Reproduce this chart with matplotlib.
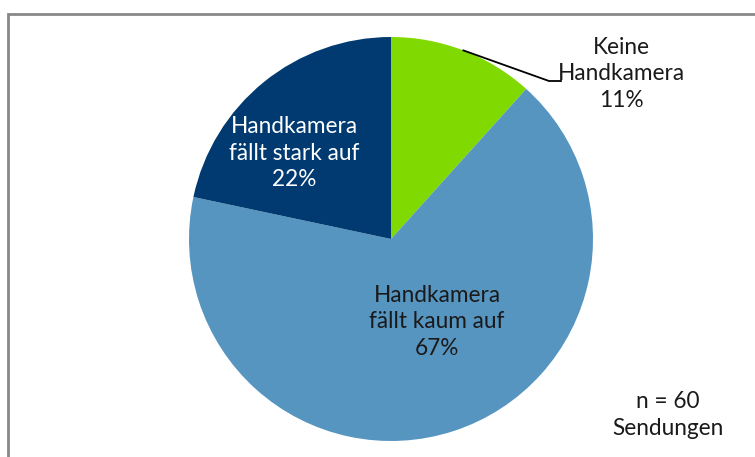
import numpy as np
import matplotlib.pyplot as plt
from matplotlib.patches import Rectangle

labels = ["Keine\nHandkamera", "Handkamera\nfällt kaum auf", "Handkamera\nfällt stark auf"]
counts = [7, 40, 13]  # n = 60 Sendungen
pct_labels = ["11%", "67%", "22%"]
colors = ["#80D900", "#5795C1", "#003A70"]
text_colors = ["#1a1a1a", "#1a1a1a", "white"]
note = "n = 60\nSendungen"

plt.rcParams['font.family'] = ['Lato', 'DejaVu Sans']

W, H = 755, 457
fig = plt.figure(figsize=(W / 100, H / 100), dpi=100)
ax = fig.add_axes([0, 0, 1, 1])

cx, cy, r = 391, H - 239, 202
wedges, _ = ax.pie(counts, colors=colors, startangle=90, counterclock=False,
                   center=(cx, cy), radius=r)
ax.set_xlim(0, W)
ax.set_ylim(0, H)
ax.set_aspect('equal')
ax.axis('off')

# chart frame (extends past right/bottom edge)
ax.add_patch(Rectangle((8, -10), W, H - 4, fill=False,
                       edgecolor="#888888", lw=2, clip_on=False))

label_pos = [(621, H - 74), (437, H - 322), (294, H - 153)]
for lab, p, tc, (tx, ty) in zip(labels, pct_labels, text_colors, label_pos):
    ax.text(tx, ty, f"{lab}\n{p}", ha="center", va="center",
            color=tc, fontsize=16.3, linespacing=1.3)

# leader line for the small slice
g = wedges[0]
mid = np.deg2rad((g.theta1 + g.theta2) / 2)
ex, ey = cx + r * np.cos(mid), cy + r * np.sin(mid)
ax.plot([ex, 549, 561], [ey, H - 81, H - 81], color="black", lw=1.3)

ax.text(668, H - 415, note, ha="center", va="center", color="#1a1a1a",
        fontsize=16.3, linespacing=1.3)

fig.savefig("out.png", dpi=100)
